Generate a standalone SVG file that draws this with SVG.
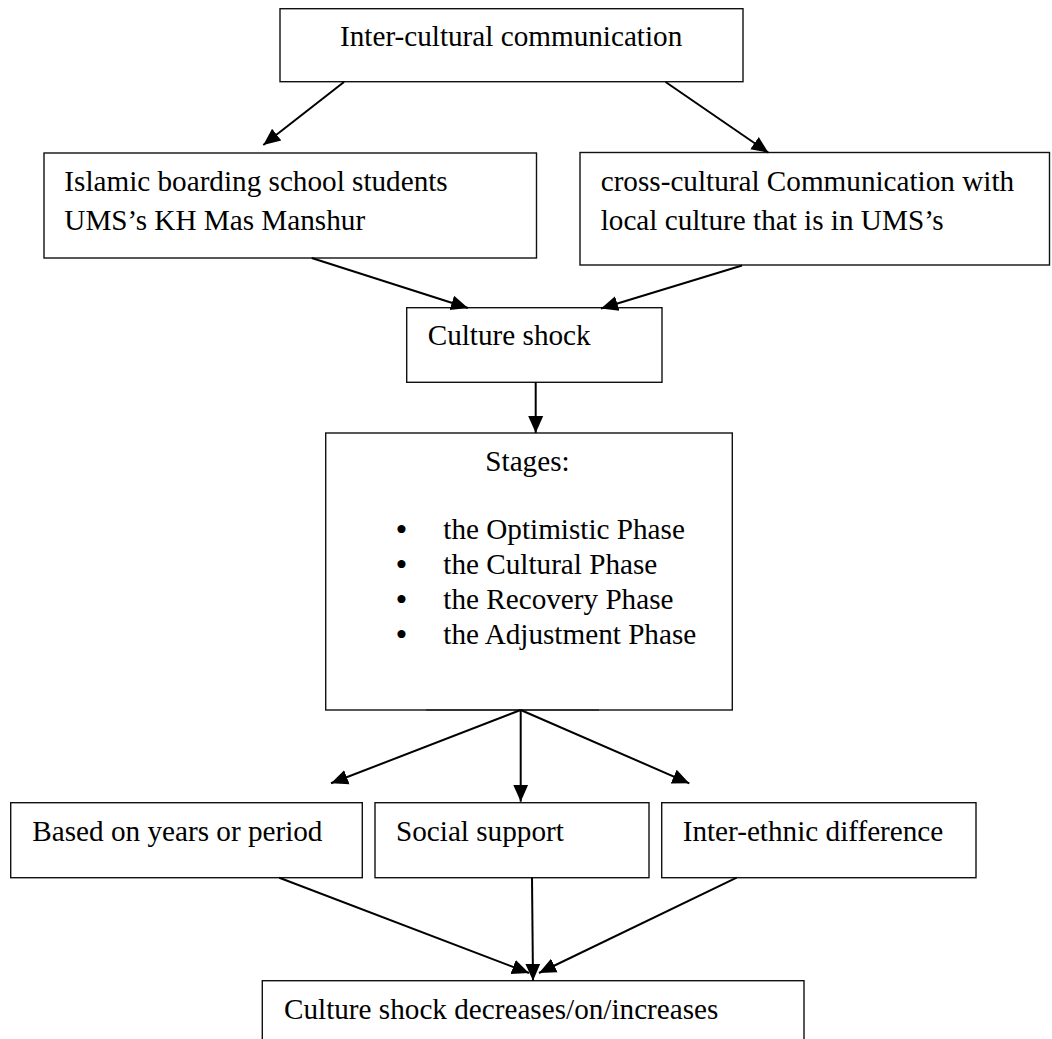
<svg xmlns="http://www.w3.org/2000/svg" width="1052" height="1039" viewBox="0 0 1052 1039">
<style>
  .box { fill: #fff; stroke: #111; stroke-width: 1.4; }
  .t { font-family: "Liberation Serif", "Times New Roman", serif; font-size: 29.2px; fill: #000; }
  .bul { font-size: 34px; }
  .conn line { stroke: #000; stroke-width: 2; marker-end: url(#arrow); }
</style>
<defs>
  <marker id="arrow" markerUnits="userSpaceOnUse" markerWidth="18" markerHeight="18" viewBox="0 0 18 18" refX="17" refY="9" orient="auto">
    <path d="M0,1.5 L17,9 L0,16.5 z" fill="#000"/>
  </marker>
</defs>
<rect width="1052" height="1039" fill="#fff"/>

<g id="node-intercultural">
  <rect class="box" x="280" y="8.7" width="463" height="73"/>
  <text class="t" x="340" y="45.7">Inter-cultural communication</text>
</g>
<g id="node-islamic">
  <rect class="box" x="44" y="153" width="492.5" height="105"/>
  <text class="t" x="64.3" y="190.7">Islamic boarding school students</text>
  <text class="t" x="64.3" y="230">UMS’s KH Mas Manshur</text>
</g>
<g id="node-crosscultural">
  <rect class="box" x="580" y="152.5" width="469.5" height="112.5"/>
  <text class="t" x="600.7" y="190.7">cross-cultural Communication with</text>
  <text class="t" x="600.7" y="230">local culture that is in UMS’s</text>
</g>
<g id="node-cultureshock">
  <rect class="box" x="406.7" y="307.7" width="255.3" height="74.6"/>
  <text class="t" x="427.7" y="345">Culture shock</text>
</g>
<g id="node-stages">
  <rect class="box" x="325.7" y="433" width="406.6" height="277"/>
  <line x1="426" y1="710" x2="599" y2="710" stroke="#333" stroke-width="2"/>
  <text class="t" x="527.5" y="470.7" text-anchor="middle">Stages:</text>
  <text class="t" y="538.5"><tspan class="bul" x="395.5" dy="2">•</tspan><tspan x="443.3" dy="-2">the Optimistic Phase</tspan></text>
  <text class="t" y="573.5"><tspan class="bul" x="395.5" dy="2">•</tspan><tspan x="443.3" dy="-2">the Cultural Phase</tspan></text>
  <text class="t" y="608.5"><tspan class="bul" x="395.5" dy="2">•</tspan><tspan x="443.3" dy="-2">the Recovery Phase</tspan></text>
  <text class="t" y="643.5"><tspan class="bul" x="395.5" dy="2">•</tspan><tspan x="443.3" dy="-2">the Adjustment Phase</tspan></text>
</g>
<g id="node-years">
  <rect class="box" x="10.7" y="802.7" width="351.6" height="75"/>
  <text class="t" x="32.3" y="840.7">Based on years or period</text>
</g>
<g id="node-social">
  <rect class="box" x="375" y="802.7" width="274" height="75"/>
  <text class="t" x="396" y="840.7">Social support</text>
</g>
<g id="node-interethnic">
  <rect class="box" x="661.7" y="802.7" width="314.3" height="75"/>
  <text class="t" x="682.7" y="840.7">Inter-ethnic difference</text>
</g>
<g id="node-result">
  <rect class="box" x="262.3" y="980.7" width="541.7" height="70"/>
  <text class="t" x="284" y="1019">Culture shock decreases/on/increases</text>
</g>

<g id="connectors" class="conn">
  <line x1="344" y1="82" x2="263.3" y2="145"/>
  <line x1="665.6" y1="82" x2="768.5" y2="152.7"/>
  <line x1="311.7" y1="258" x2="468" y2="308"/>
  <line x1="742" y1="265.5" x2="601" y2="308.5"/>
  <line x1="535.7" y1="382.3" x2="535.7" y2="433"/>
  <line x1="520.7" y1="710" x2="331" y2="783.3"/>
  <line x1="520.7" y1="710" x2="520.7" y2="801.7"/>
  <line x1="520.7" y1="710" x2="689.3" y2="783.3"/>
  <line x1="279.3" y1="877.7" x2="529" y2="973"/>
  <line x1="532" y1="877.7" x2="533" y2="980.7"/>
  <line x1="736.7" y1="877.7" x2="539" y2="973"/>
</g>
</svg>
